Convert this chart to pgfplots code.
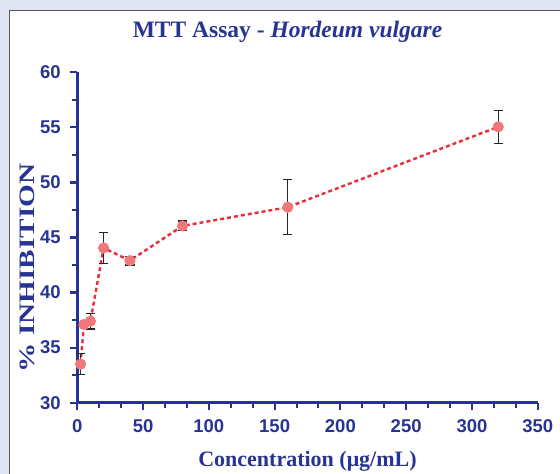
\documentclass[border=0pt]{standalone}
\usepackage{fontspec}
\setmainfont{Liberation Serif}
\setsansfont{Liberation Sans}
\usepackage{pgfplots}
\pgfplotsset{compat=1.18}
\usepackage{graphicx}
\definecolor{bgl}{RGB}{225,229,243}
\definecolor{axblue}{RGB}{40,52,148}
\definecolor{linered}{RGB}{235,45,55}
\definecolor{markpink}{RGB}{240,120,122}
\begin{document}
\begin{tikzpicture}
\fill[bgl] (0,0) rectangle (560bp,474bp);
\filldraw[fill=white, draw=gray!70!black, line width=1bp] (9.5bp,-10bp) rectangle (580bp,463.5bp);
\begin{axis}[
  at={(77.3bp,71.3bp)}, anchor=south west,
  scale only axis, width=460.4bp, height=330.4bp,
  xmin=0, xmax=350, ymin=30, ymax=60,
  axis x line*=bottom, axis y line*=left,
  axis line style={-, line width=2.4bp, axblue},
  xtick={0,50,...,350}, ytick={30,35,...,60},
  minor x tick num=2, minor y tick num=1,
  xtick align=outside, ytick align=outside,
  major tick length=7.5bp, minor tick length=5bp,
  major tick style={axblue, line width=2.2bp},
  minor tick style={axblue, line width=2bp},
  ticklabel style={font=\sffamily\bfseries\fontsize{18.5bp}{18.5bp}\selectfont, text=axblue, inner sep=1bp},
  yticklabel style={xshift=-8bp},
  xticklabel style={yshift=-8bp},
  /pgf/number format/assume math mode=true,
  clip=false,
  every axis title shift=0pt,
  title={\bfseries MTT Assay - \textit{Hordeum vulgare}},
  title style={at={(axis description cs:0.4566,1.1053)}, anchor=base, font=\fontsize{23.5bp}{27bp}\selectfont, text=axblue},
  xlabel={\bfseries Concentration (μg/mL)},
  every axis x label/.style={at={(axis description cs:0.5,-0.1916)}, anchor=base, font=\fontsize{22bp}{26bp}\selectfont, text=axblue},
  ylabel={\scalebox{1.33}[1]{\bfseries \% INHIBITION}},
  every axis y label/.style={at={(axis description cs:-0.0919,0.4077)}, rotate=90, anchor=base, font=\fontsize{22bp}{26bp}\selectfont, text=axblue},
]
\addplot[color=linered, line width=2.4bp, dash pattern=on 4bp off 3bp,
  mark=*, mark size=4.3bp, mark options={solid, fill=markpink, draw=markpink},
  error bars/.cd, y dir=both, y explicit,
  error bar style={black!85, line width=1.2bp, solid},
  error mark options={rotate=90, mark size=4.7bp, line width=1.2bp, black!85, solid}]
  table[x=x, y=y, y error plus=ep, y error minus=em] {
x y ep em
2.5 33.5 0.95 0.95
5 37.1 0.1 0.1
10 37.4 0.73 0.7
20 44.05 1.4 1.4
40 42.9 0.35 0.4
80 46.05 0.45 0.45
160 47.75 2.5 2.5
320 55.05 1.5 1.5
};
\end{axis}
\pgfresetboundingbox
\useasboundingbox (0,0) rectangle (560bp,474bp);
\end{tikzpicture}
\end{document}
